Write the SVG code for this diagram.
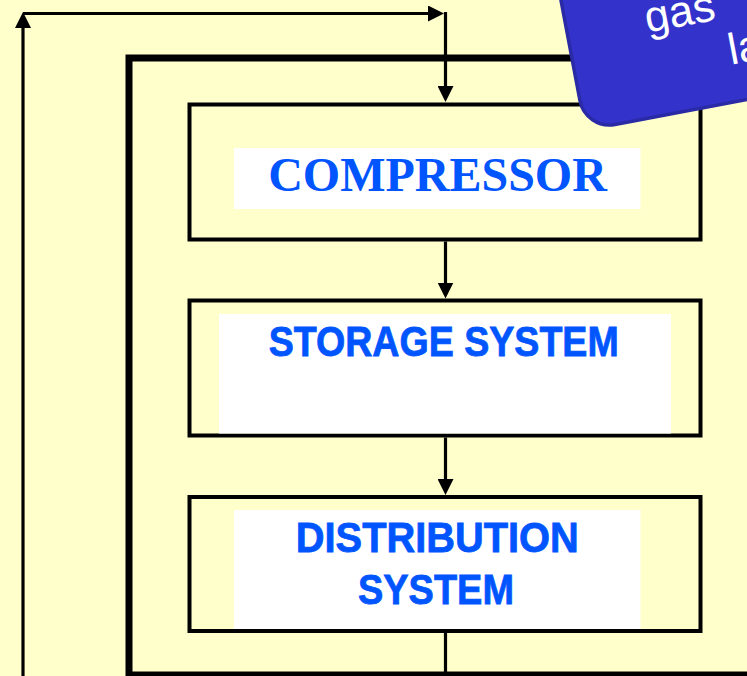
<svg xmlns="http://www.w3.org/2000/svg" width="747" height="676" viewBox="0 0 747 676">
<style>
.bg{fill:#FFFFCC}
.frame{fill:none;stroke:#000;stroke-width:7}
.box{fill:#FFFFCC;stroke:#000;stroke-width:4}
.panel{fill:#FFFFFF}
.conn{fill:none;stroke:#000;stroke-width:3.2}
.serif{font-family:"Liberation Serif","Times New Roman",serif;font-weight:bold;font-size:48px;fill:#0055FF}
.sans{font-family:"Liberation Sans",Arial,sans-serif;font-weight:bold;font-size:43px;fill:#0055FF;stroke:#0055FF;stroke-width:0.8}
.callout{fill:#3333CC;stroke:#2A2AA6;stroke-width:3.5}
.ctext{font-family:"Liberation Sans",Arial,sans-serif;font-size:44px;fill:#FFFFFF}
</style>
<defs>
<marker id="arr" viewBox="0 0 16 16" markerUnits="userSpaceOnUse" markerWidth="16" markerHeight="16" refX="12" refY="8" orient="auto">
<path d="M0,0 L16,8 L0,16 Z" fill="#000"/>
</marker>
</defs>
<rect class="bg" x="0" y="0" width="747" height="676"/>
<g id="frame">
<rect class="frame" x="129" y="58" width="700" height="617"/>
</g>
<g id="connectors">
<path class="conn" d="M23,676 V16" marker-end="url(#arr)"/>
<path class="conn" d="M23,13.5 H440" marker-end="url(#arr)"/>
<path class="conn" d="M445.5,12 V98" marker-end="url(#arr)"/>
<path class="conn" d="M445.5,241.5 V294.5" marker-end="url(#arr)"/>
<path class="conn" d="M445.5,437.5 V491" marker-end="url(#arr)"/>
<path class="conn" d="M445.5,633 V672"/>
</g>
<g id="compressor">
<rect class="box" x="189.5" y="104.5" width="511" height="135"/>
<rect class="panel" x="234" y="148" width="406.5" height="61"/>
<text class="serif" x="437.5" y="191" text-anchor="middle">COMPRESSOR</text>
</g>
<g id="storage">
<rect class="box" x="189.5" y="300.5" width="511" height="135"/>
<rect class="panel" x="219" y="314" width="452" height="119.5"/>
<text class="sans" x="443.7" y="356" text-anchor="middle" textLength="350" lengthAdjust="spacingAndGlyphs">STORAGE SYSTEM</text>
</g>
<g id="distribution">
<rect class="box" x="189.5" y="497" width="511" height="134"/>
<rect class="panel" x="234" y="510" width="406.5" height="119"/>
<text class="sans" x="437.3" y="551.5" text-anchor="middle" textLength="283" lengthAdjust="spacingAndGlyphs">DISTRIBUTION</text>
<text class="sans" x="436" y="604" text-anchor="middle" textLength="156" lengthAdjust="spacingAndGlyphs">SYSTEM</text>
</g>
<g id="callout" transform="translate(585.5,130) rotate(-10.7)">
<rect class="callout" x="0" y="-320" width="420" height="320" rx="30" ry="30"/>
<text class="ctext" x="79" y="-84">gas</text>
<text class="ctext" x="155" y="-37">la</text>
</g>
</svg>
